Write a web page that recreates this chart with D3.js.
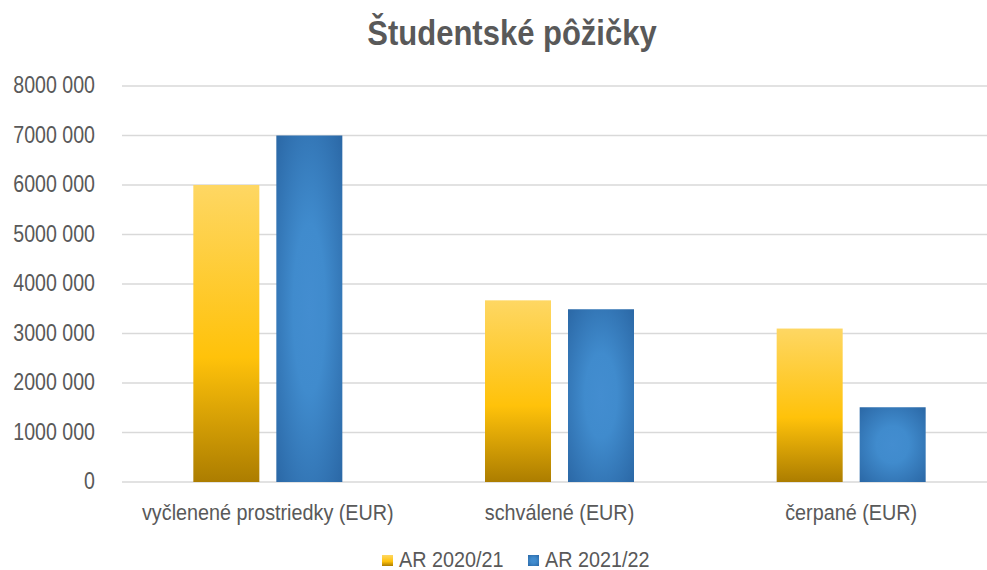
<!DOCTYPE html>
<html><head><meta charset="utf-8">
<script src="https://cdn.jsdelivr.net/npm/d3@7"></script>
<style>body{margin:0;background:#fff;}svg{display:block;font-family:"Liberation Sans",Arial,sans-serif;}</style>
</head><body>
<svg id="c" width="987" height="570"></svg>
<script>
const title = "Študentské pôžičky";
const categories = ["vyčlenené prostriedky (EUR)", "schválené (EUR)", "čerpané (EUR)"];
const seriesNames = ["AR 2020/21", "AR 2021/22"];
const values2020 = [6000000, 3670000, 3100000];
const values2021 = [7000000, 3490000, 1510000];
const yTicks = [0, 1000000, 2000000, 3000000, 4000000, 5000000, 6000000, 7000000, 8000000];

(function(){
const svg = d3.select("#c");
const W = 987, H = 570;
const pLeft = 122, pRight = 997, pTop = 86, pBottom = 482;

const defs = svg.append("defs");
const gy = defs.append("linearGradient").attr("id","gY").attr("x1",0).attr("y1",0).attr("x2",0).attr("y2",1);
gy.append("stop").attr("offset","0%").attr("stop-color","#FED763");
gy.append("stop").attr("offset","58%").attr("stop-color","#FFC20A");
gy.append("stop").attr("offset","100%").attr("stop-color","#AC7D00");
const gb = defs.append("radialGradient").attr("id","gB").attr("cx","50%").attr("cy","50%").attr("r","70%");
gb.append("stop").attr("offset","0%").attr("stop-color","#438DD0");
gb.append("stop").attr("offset","35%").attr("stop-color","#408BCD");
gb.append("stop").attr("offset","100%").attr("stop-color","#2B68A6");

const x0 = d3.scaleBand().domain(categories).range([pLeft, pRight]).paddingInner(0).paddingOuter(0);
const y = d3.scaleLinear().domain([0, 8000000]).range([pBottom, pTop]);

const fmt = v => v === 0 ? "0" : (Math.floor(v/1000) + " " + String(v%1000).padStart(3,"0"));

svg.append("g").selectAll("line").data(yTicks).join("line")
  .attr("x1", pLeft).attr("x2", W)
  .attr("y1", d => y(d)).attr("y2", d => y(d))
  .attr("stroke", "#d9d9d9").attr("stroke-width", 1.5);

svg.append("g").selectAll("text").data(yTicks).join("text")
  .attr("transform", d => `translate(95,${y(d)+7}) scale(0.98,1.15)`)
  .attr("text-anchor","end").attr("fill","#595959").attr("font-size", 20)
  .text(fmt);

const barW = 66, gap = 17;
const series = [
  {name: seriesNames[0], vals: values2020, fill: "url(#gY)"},
  {name: seriesNames[1], vals: values2021, fill: "url(#gB)"}
];
series.forEach((s, si) => {
  svg.append("g").selectAll("rect").data(categories).join("rect")
    .attr("x", (c) => x0(c) + x0.bandwidth()/2 - gap/2 - barW + si*(barW+gap))
    .attr("y", (c,i) => y(s.vals[i]))
    .attr("width", barW)
    .attr("height", (c,i) => pBottom - y(s.vals[i]))
    .attr("fill", s.fill);
});

svg.append("g").selectAll("text").data(categories).join("text")
  .attr("transform", c => `translate(${x0(c)+x0.bandwidth()/2},520) scale(0.99,1.15)`)
  .attr("text-anchor","middle").attr("fill","#595959").attr("font-size",20)
  .text(c => c);

svg.append("text").attr("transform","translate(512,45) scale(1.0,1.12)")
  .attr("text-anchor","middle").attr("font-weight","bold").attr("font-size",31)
  .attr("fill","#595959").text(title);

const legX = [382, 528];
const lg = svg.append("g");
series.forEach((s, i) => {
  lg.append("rect").attr("x", legX[i]).attr("y", 555).attr("width", 11).attr("height", 11).attr("fill", s.fill);
  lg.append("text").attr("transform", `translate(${legX[i]+17},567) scale(0.99,1.1)`)
    .attr("fill","#595959").attr("font-size",20).text(s.name);
});
})();
</script>
</body></html>
